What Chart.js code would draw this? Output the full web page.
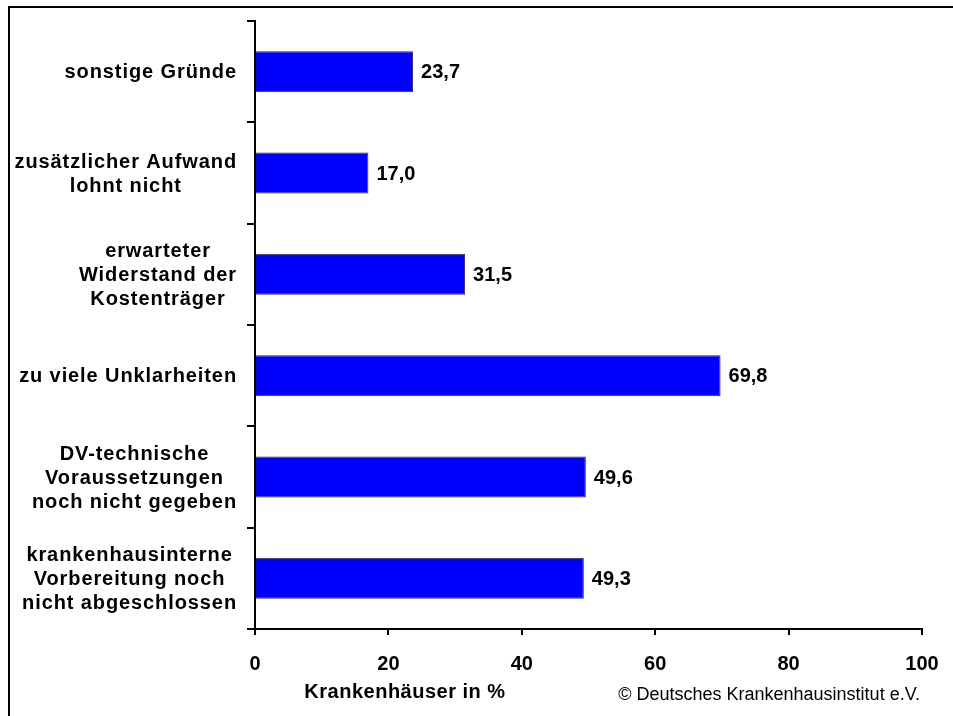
<!DOCTYPE html>
<html>
<head>
<meta charset="utf-8">
<script src="https://cdn.jsdelivr.net/npm/chart.js@4.4.1/dist/chart.umd.min.js"></script>
<style>
  html, body { margin: 0; padding: 0; background: #fff; }
  #wrap { position: relative; width: 953px; height: 716px; overflow: hidden; }
  #frame { position: absolute; left: 8px; top: 6px; width: 1000px; height: 800px;
           border-top: 2px solid #000; border-left: 2px solid #000; }
  #myChart { position: absolute; left: 0; top: 0; }
</style>
</head>
<body>
<div id="wrap">
  <div id="frame"></div>
  <canvas id="myChart" width="953" height="716"></canvas>
</div>
<script>
// categories, top to bottom
const categories = [
  ['sonstige Gründe'],
  ['zusätzlicher Aufwand', 'lohnt nicht'],
  ['erwarteter', 'Widerstand der', 'Kostenträger'],
  ['zu viele Unklarheiten'],
  ['DV-technische', 'Voraussetzungen', 'noch nicht gegeben'],
  ['krankenhausinterne', 'Vorbereitung noch', 'nicht abgeschlossen']
];
const values = [23.7, 17.0, 31.5, 69.8, 49.6, 49.3];
const xTicks = [0, 20, 40, 60, 80, 100];
const xTitle = 'Krankenhäuser in %';
const credit = '© Deutsches Krankenhausinstitut e.V.';

const FONT = '"Liberation Sans", Arial, Helvetica, sans-serif';
const Chart1 = document.getElementById('myChart');

// labels drawn by hand: lines centred in a right-aligned block like the original
const labelPlugin = {
  id: 'labelPlugin',
  afterDraw(chart) {
    const ctx = chart.ctx;
    const yScale = chart.scales.y;
    ctx.save();
    ctx.fillStyle = '#000';
    ctx.font = 'bold 20px ' + FONT;
    ctx.letterSpacing = '0.9px';
    ctx.textBaseline = 'middle';
    ctx.textAlign = 'center';
    const lineH = 24;
    const rightEdge = 237;
    categories.forEach((lines, i) => {
      const cy = yScale.getPixelForValue(i) + 1;
      let maxW = 0;
      lines.forEach(l => { maxW = Math.max(maxW, ctx.measureText(l).width); });
      const cx = rightEdge - maxW / 2;
      const y0 = cy - (lines.length - 1) * lineH / 2;
      lines.forEach((l, k) => ctx.fillText(l, cx, y0 + k * lineH));
    });

    // value labels
    ctx.letterSpacing = '0px';
    ctx.textAlign = 'left';
    const meta = chart.getDatasetMeta(0);
    meta.data.forEach((bar, i) => {
      ctx.fillText(values[i].toFixed(1).replace('.', ','), bar.x + 8, bar.y + 1);
    });

    // axis title and credit
    ctx.letterSpacing = '0.5px';
    ctx.textAlign = 'center';
    ctx.fillText(xTitle, 405, 692);
    ctx.letterSpacing = '0px';
    ctx.font = '18px ' + FONT;
    ctx.textAlign = 'right';
    ctx.fillText(credit, 920, 695);
    ctx.restore();
  }
};

const data = {
  labels: categories.map(c => c.join(' ')),
  datasets: [{
    data: values,
    backgroundColor: '#0000FF',
    borderColor: '#333333',
    borderWidth: 1,
    categoryPercentage: 1,
    barPercentage: 0.405
  }]
};

const config = {
  type: 'bar',
  data,
  plugins: [labelPlugin],
  options: {
    indexAxis: 'y',
    responsive: false,
    animation: false,
    layout: { padding: { left: 0, top: 21, right: 31, bottom: 0 } },
    plugins: { legend: { display: false }, tooltip: { enabled: false } },
    scales: {
      x: {
        min: 0,
        max: 100,
        afterFit(scale) {
          scale.height = 87;
          scale.paddingLeft = 0;
          scale.paddingRight = 0;
        },
        afterBuildTicks(scale) { scale.ticks = xTicks.map(v => ({ value: v })); },
        border: { display: true, color: '#000', width: 2 },
        grid: { drawOnChartArea: false, drawTicks: true, tickLength: 6, color: '#000', lineWidth: 2 },
        ticks: {
          padding: 17,
          color: '#000',
          font: { family: FONT, size: 20, weight: 'bold' }
        }
      },
      y: {
        afterFit(scale) {
          scale.width = 255;
          scale.paddingTop = 0;
          scale.paddingBottom = 0;
        },
        border: { display: true, color: '#000', width: 2 },
        grid: { drawOnChartArea: false, drawTicks: true, tickLength: 8, color: '#000', lineWidth: 2, offset: true },
        ticks: { display: false }
      }
    }
  }
};

let myChart = new Chart(Chart1, config);
</script>
</body>
</html>
